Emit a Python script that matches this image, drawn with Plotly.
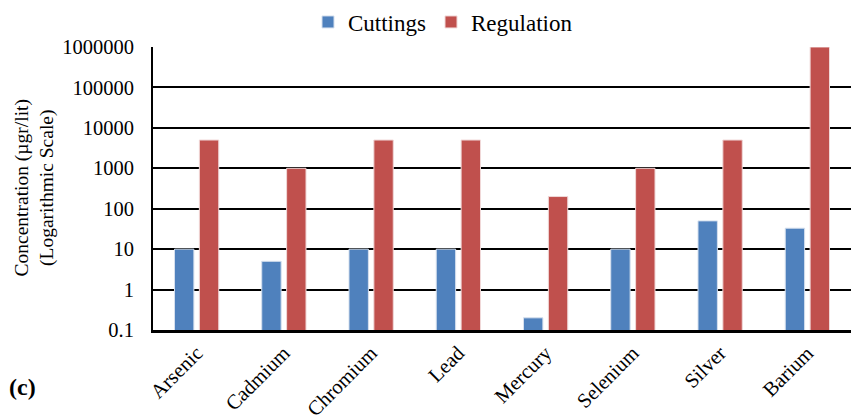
import plotly.graph_objects as go

categories = ["Arsenic", "Cadmium", "Chromium", "Lead", "Mercury", "Selenium", "Silver", "Barium"]
cuttings = [10, 5, 10, 10, 0.2, 10, 50, 33]
regulation = [5000, 1000, 5000, 5000, 200, 1000, 5000, 1000000]
tick_vals = [0.1, 1, 10, 100, 1000, 10000, 100000, 1000000]
tick_text = ["0.1", "1", "10", "100", "1000", "10000", "100000", "1000000"]

FONT = "Liberation Serif"

fig = go.Figure()
fig.add_trace(go.Bar(name="Cuttings", x=categories, y=cuttings,
                     marker=dict(color="#4F81BD", line=dict(color="#D6E0EE", width=1))))
fig.add_trace(go.Bar(name="Regulation", x=categories, y=regulation,
                     marker=dict(color="#C0504D", line=dict(color="#F0D8D8", width=1))))

fig.update_layout(
    width=851, height=420,
    margin=dict(l=153, r=0, t=47, b=90, autoexpand=False),
    paper_bgcolor="white", plot_bgcolor="white",
    font=dict(family=FONT, color="black", size=20),
    barmode="group", bargap=0.43, bargroupgap=0.22,
    legend=dict(orientation="h", x=(308 - 153) / 698, xanchor="left",
                y=1 + 25 / 283, yanchor="middle",
                font=dict(size=23, family=FONT), itemwidth=30, traceorder="normal",
                bgcolor="rgba(0,0,0,0)"),
    showlegend=True,
)

fig.update_xaxes(showline=True, linecolor="black", linewidth=3, tickangle=-45,
                 tickfont=dict(size=20.5, family=FONT), ticks="", showgrid=False)
fig.update_yaxes(type="log", range=[-1, 6], tickvals=tick_vals, ticktext=tick_text,
                 showgrid=True, gridcolor="black", gridwidth=1.5,
                 showline=True, linecolor="black", linewidth=2, ticks="",
                 ticklabelstandoff=13,
                 tickfont=dict(size=20.5, family=FONT), zeroline=False)

fig.add_annotation(text="Concentration (µgr/lit)<br>(Logarithmic Scale)",
                   xref="paper", yref="paper", x=-(153 - 34) / 698, y=0.5,
                   xanchor="center", yanchor="middle", textangle=-90,
                   showarrow=False, font=dict(size=19.5, family=FONT))
fig.add_annotation(text="<b>(c)</b>", xref="paper", yref="paper",
                   x=-(153 - 7) / 698, y=-(387 - 330) / 283,
                   xanchor="left", yanchor="middle", showarrow=False,
                   font=dict(size=24, family=FONT))

fig.write_html("out.html")
